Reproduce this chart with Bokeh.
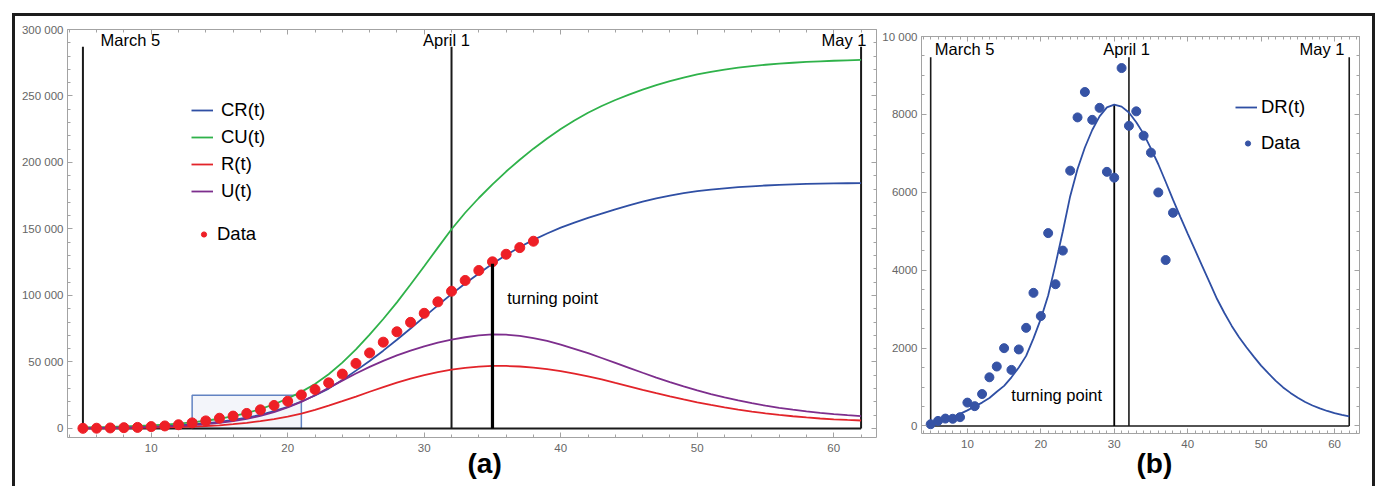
from bokeh.plotting import figure
from bokeh.models import (Range1d, LinearAxis, SingleIntervalTicker, Legend, LegendItem,
                          Label, Div, Spacer, Title)
from bokeh.layouts import row, column
from bokeh.embed import file_html
from bokeh.resources import INLINE

# ---------------- data ----------------
days = list(range(5, 63))                      # model days (March 1 = day 1)
data_days = list(range(5, 39))                 # observed days

# panel (a): model curves, thousands of cases
cr_k = [0.3, 0.45, 0.6, 0.8, 1.05, 1.35, 1.75, 2.3, 3.0, 3.9,
        5.0, 6.4, 8.1, 10.2, 13.0, 16.3, 20.3, 24.8, 30.0, 36.5,
        43.5, 50.8, 58.5, 66.7, 75.2, 83.9, 92.6, 101.0, 109.0, 116.6,
        123.8, 130.4, 136.4, 141.8, 146.6, 151.0, 154.8, 158.3, 161.6, 164.8,
        167.8, 170.5, 173.0, 175.1, 176.9, 178.4, 179.6, 180.6, 181.4, 182.1,
        182.7, 183.2, 183.6, 183.9, 184.1, 184.3, 184.4, 184.5]
cu_k = [0.8, 1.0, 1.2, 1.5, 1.85, 2.3, 2.9, 3.65, 4.6, 5.8,
        7.3, 9.2, 11.6, 14.6, 18.2, 22.5, 27.5, 33.5, 40.8, 49.5,
        59.5, 70.5, 82.3, 94.8, 108.3, 122.0, 136.0, 149.8, 162.2, 173.3,
        183.6, 193.2, 202.1, 210.4, 218.1, 225.2, 231.6, 237.4, 242.5, 247.0,
        251.0, 254.8, 258.2, 261.2, 263.9, 266.2, 268.2, 269.9, 271.3, 272.5,
        273.5, 274.3, 275.0, 275.6, 276.1, 276.5, 276.8, 277.1]
r_k = [0.1, 0.15, 0.2, 0.3, 0.45, 0.6, 0.8, 1.05, 1.4, 1.85,
       2.4, 3.2, 4.2, 5.5, 7.0, 8.9, 11.2, 14.0, 17.1, 20.5,
       24.0, 27.6, 31.1, 34.4, 37.4, 40.1, 42.4, 44.2, 45.6, 46.5,
       47.0, 47.0, 46.6, 45.8, 44.6, 43.1, 41.3, 39.2, 36.9, 34.2,
       31.6, 29.0, 26.5, 24.1, 21.8, 19.7, 17.7, 15.9, 14.2, 12.7,
       11.4, 10.2, 9.2, 8.3, 7.5, 6.9, 6.4, 6.0]
u_k = [0.3, 0.4, 0.55, 0.7, 0.9, 1.15, 1.5, 1.95, 2.55, 3.3,
       4.3, 5.6, 7.3, 9.5, 12.3, 15.8, 20.0, 25.0, 30.5, 36.0,
       41.3, 46.3, 50.8, 54.9, 58.5, 61.7, 64.5, 66.8, 68.6, 70.0,
       70.7, 70.5, 69.6, 68.0, 65.8, 63.0, 59.9, 56.6, 53.0, 49.3,
       45.6, 41.9, 38.3, 34.9, 31.7, 28.7, 25.9, 23.4, 21.1, 19.0,
       17.1, 15.5, 14.1, 12.8, 11.7, 10.8, 10.0, 9.3]
cum_data_k = [0.1, 0.2, 0.4, 0.6, 0.8, 1.4, 1.9, 2.8, 4.2, 5.7,
              7.7, 9.3, 11.3, 14.0, 17.3, 20.5, 25.2, 29.3, 34.3, 40.9,
              48.9, 56.8, 64.9, 72.7, 79.8, 86.6, 95.2, 103.2, 111.3, 118.8,
              125.3, 131.0, 136.0, 140.8]

# panel (b): daily new cases
dr = [60, 100, 150, 230, 310, 400, 500, 600, 720, 880,
      1030, 1250, 1500, 1800, 2250, 2750, 3350, 4150, 5000, 5900,
      6600, 7150, 7600, 7950, 8180, 8250, 8200, 8050, 7800, 7500,
      7120, 6720, 6270, 5810, 5370, 4940, 4520, 4100, 3680, 3260,
      2900, 2570, 2280, 2020, 1780, 1550, 1350, 1160, 990, 850,
      725, 615, 525, 450, 385, 330, 285, 245]
daily_data = [45, 130, 190, 185, 226, 600, 509, 820, 1250, 1527,
              1998, 1440, 1965, 2520, 3418, 2822, 4952, 3640, 4503, 6555,
              7923, 8575, 7860, 8168, 6525, 6376, 9190, 7706, 8078, 7453,
              7018, 5996, 4261, 5474]

marker_days = [5, 32, 62]                      # March 5, April 1, May 1
marker_names = ["March 5", "April 1", "May 1"]
turn_a, turn_b = 35, 30
zoom_box = (13, 21, 0, 24900)

y_ticks_a = [0, 50000, 100000, 150000, 200000, 250000, 300000]
y_labels_a = ["0", "50 000", "100 000", "150 000", "200 000", "250 000", "300 000"]
y_ticks_b = [0, 2000, 4000, 6000, 8000, 10000]
y_labels_b = ["0", "2000", "4000", "6000", "8000", "10 000"]

# ---------------- style ----------------
FONT = "Liberation Sans"
AX = "#a3a3a3"
TL = "#666666"
INK = "#1a1a1a"
BLUE, GREEN, RED, PURPLE = "#2f4fa4", "#2fb24a", "#e2242a", "#7d2e8d"
DOT_RED, DOT_BLUE = "#ee1f26", "#3653a5"

cr = [v * 1000 for v in cr_k]
cu = [v * 1000 for v in cu_k]
rr = [v * 1000 for v in r_k]
uu = [v * 1000 for v in u_k]
cum_data = [v * 1000 for v in cum_data_k]


def make_fig(w, h, xr, yr, borders):
    p = figure(width=w, height=h, x_range=Range1d(*xr), y_range=Range1d(*yr),
               output_backend="svg", toolbar_location=None, tools="", title=None,
               x_axis_type=None, y_axis_type=None,
               min_border_left=borders[0], min_border_right=borders[1],
               min_border_top=borders[2], min_border_bottom=borders[3])
    p.outline_line_color = None
    p.background_fill_color = "white"
    p.border_fill_color = "white"
    return p


def style_axis(ax, labels):
    ax.axis_line_color = AX
    ax.axis_line_width = 1
    ax.major_tick_line_color = AX
    ax.minor_tick_line_color = AX
    ax.major_tick_in = 5
    ax.major_tick_out = 0
    ax.minor_tick_in = 3
    ax.minor_tick_out = 0
    if labels:
        ax.major_label_text_font = FONT
        ax.major_label_text_font_size = "11.5px"
        ax.major_label_text_color = TL
        ax.major_label_standoff = 4
    else:
        ax.major_label_text_font_size = "1px"
        ax.major_label_text_color = None
        ax.major_label_standoff = 0


def add_axes(p, xint, xminor, yint, yminor, yticks, ylabels):
    for side in ("below", "above"):
        ax = LinearAxis(ticker=SingleIntervalTicker(interval=xint, num_minor_ticks=xminor))
        style_axis(ax, side == "below")
        if side == "below":
            ax.major_label_standoff = 6
        p.add_layout(ax, side)
    for side in ("left", "right"):
        ax = LinearAxis(ticker=SingleIntervalTicker(interval=yint, num_minor_ticks=yminor))
        style_axis(ax, side == "left")
        if side == "left":
            ax.major_label_overrides = {t: s for t, s in zip(yticks, ylabels)}
        p.add_layout(ax, side)


def lbl(p, x, y, text, align):
    p.add_layout(Label(x=x, y=y, text=text, text_font=FONT, text_font_size="16.5px",
                       text_align=align, text_baseline="middle", text_color="black"))


def panel_title(p, text, offset, standoff):
    p.add_layout(Title(text=text, align="left", offset=offset, standoff=standoff,
                       vertical_align="top", text_font=FONT, text_font_size="28px",
                       text_font_style="bold", text_color="black"), "below")


def legend(items, loc, glyph_w, standoff, spacing):
    return Legend(items=items, location=loc, label_text_font=FONT,
                  label_text_font_size="18.5px", label_text_color="black",
                  glyph_width=glyph_w, glyph_height=22, label_height=22,
                  spacing=spacing, padding=0, margin=0, label_standoff=standoff,
                  border_line_color=None, background_fill_alpha=0)


# ---------------- panel (a) ----------------
pa = make_fig(864, 470, (3.87, 63.13), (-6790, 300000), (52, 3, 13, 49))
add_axes(pa, 10, 5, 50000, 5, y_ticks_a, y_labels_a)

pa.quad(left=zoom_box[0], right=zoom_box[1], bottom=zoom_box[2], top=zoom_box[3],
        fill_color="#f3f5fa", line_color="#6283c2", line_width=1.5)
pa.segment(x0=marker_days, y0=[0] * 3, x1=marker_days, y1=[287000] * 3,
           line_color=INK, line_width=2)
pa.segment(x0=[marker_days[0]], y0=[0], x1=[marker_days[-1]], y1=[0],
           line_color=INK, line_width=2)

r_cr = pa.line(days, cr, line_color=BLUE, line_width=1.8)
r_cu = pa.line(days, cu, line_color=GREEN, line_width=1.8)
r_r = pa.line(days, rr, line_color=RED, line_width=1.8)
r_u = pa.line(days, uu, line_color=PURPLE, line_width=1.8)
r_dots_a = pa.scatter(data_days, cum_data, size=10, color=DOT_RED)
pa.segment(x0=[turn_a], y0=[0], x1=[turn_a], y1=[cr[days.index(turn_a)]],
           line_color="black", line_width=3.2)

pa.add_layout(legend([LegendItem(label="CR(t)", renderers=[r_cr]),
                      LegendItem(label="CU(t)", renderers=[r_cu]),
                      LegendItem(label="R(t)", renderers=[r_r]),
                      LegendItem(label="U(t)", renderers=[r_u])], (124, 235), 22, 8, 5))
pa.add_layout(legend([LegendItem(label="Data", renderers=[r_dots_a])], (130, 192), 13, 7, 5))

lbl(pa, 6.29, 291800, marker_names[0], "left")
lbl(pa, 31.63, 291800, marker_names[1], "center")
lbl(pa, 62.39, 291800, marker_names[2], "right")
lbl(pa, 36.08, 97800, "turning point", "left")
panel_title(pa, "(a)", 400, -14)

# ---------------- panel (b) ----------------
pb = make_fig(493, 470, (3.75, 63.4), (-193, 10000), (41, 13, 20, 53))
add_axes(pb, 10, 10, 2000, 4, y_ticks_b, y_labels_b)

pb.segment(x0=marker_days, y0=[0] * 3, x1=marker_days, y1=[9470] * 3,
           line_color=INK, line_width=1.6)
pb.segment(x0=[marker_days[0]], y0=[0], x1=[marker_days[-1]], y1=[0],
           line_color=INK, line_width=1.6)
pb.segment(x0=[turn_b], y0=[0], x1=[turn_b], y1=[dr[days.index(turn_b)]],
           line_color="black", line_width=1.8)
r_dr = pb.line(days, dr, line_color=BLUE, line_width=1.8)
r_dots_b = pb.scatter(data_days, daily_data, size=9, color=DOT_BLUE)

pb.add_layout(legend([LegendItem(label="DR(t)", renderers=[r_dr])], (314, 315), 22, 4, 5))
pb.add_layout(legend([LegendItem(label="Data", renderers=[r_dots_b])], (320, 279), 13, 7, 5))

lbl(pb, 5.56, 9684, marker_names[0], "left")
lbl(pb, 31.67, 9684, marker_names[1], "center")
lbl(pb, 61.36, 9684, marker_names[2], "right")
lbl(pb, 15.98, 783, "turning point", "left")
panel_title(pb, "(b)", 215, -5)

# ---------------- outer frame ----------------
FRAME = {"background-color": "#1c1c1c"}
top_line = Div(text="", width=1363, height=3, margin=0, styles=FRAME)
left_line = Div(text="", width=3, height=470, margin=0, styles=FRAME)
right_line = Div(text="", width=3, height=470, margin=0, styles=FRAME)

# each plot sits in its own column so the two frames keep their own borders
col_a = column(pa, spacing=0)
col_b = column(Spacer(width=493, height=0, margin=0), pb, spacing=0)

layout = column(
    Spacer(width=10, height=13, margin=0),
    row(Spacer(width=12, height=3, margin=0), top_line, spacing=0),
    row(Spacer(width=12, height=470, margin=0), left_line, col_a, col_b, right_line, spacing=0),
    spacing=0,
)

open("out.html", "w").write(file_html(layout, INLINE))
